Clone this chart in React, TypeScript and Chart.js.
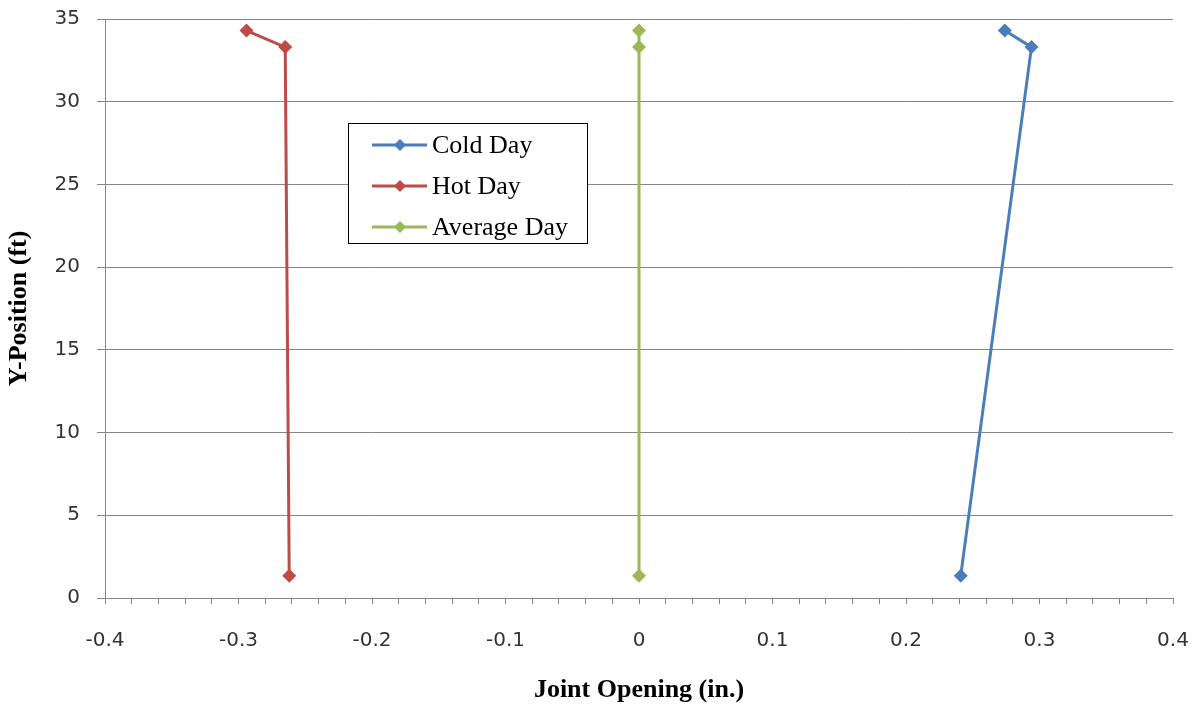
import React, { useEffect, useRef } from "react";
import { Chart, registerables } from "chart.js";

Chart.register(...registerables);

const seriesNames = ["Cold Day", "Hot Day", "Average Day"];
const seriesColors = ["#4a7ebb", "#be4b48", "#98b954"];
const yPositions = [34.3, 33.3, 1.35];
const coldX = [0.274, 0.294, 0.241];
const hotX = [-0.294, -0.265, -0.262];
const avgX = [0.0, 0.0, 0.0];
const xTitle = "Joint Opening (in.)";
const yTitle = "Y-Position (ft)";

const GRID = "#868686";
const TICK_FONT = "'DejaVu Sans', sans-serif";
const SERIF = "'Liberation Serif', 'Times New Roman', serif";

const zeroPad = (s: any) => {
  s.paddingTop = 0;
  s.paddingBottom = 0;
  s.paddingLeft = 0;
  s.paddingRight = 0;
};

const legendPlugin = {
  id: "boxLegend",
  afterDatasetsDraw(chart: any) {
    const ctx = chart.ctx;
    const bx = 348, by = 123, bw = 239, bh = 120;
    ctx.save();
    ctx.fillStyle = "#ffffff";
    ctx.fillRect(bx, by, bw, bh);
    ctx.strokeStyle = "#000000";
    ctx.lineWidth = 1;
    ctx.strokeRect(bx + 0.5, by + 0.5, bw, bh);
    chart.data.datasets.forEach((ds: any, i: number) => {
      const cy = by + 22 + i * 41;
      ctx.strokeStyle = ds.borderColor;
      ctx.lineWidth = 3;
      ctx.beginPath();
      ctx.moveTo(372, cy);
      ctx.lineTo(427, cy);
      ctx.stroke();
      ctx.fillStyle = ds.backgroundColor;
      ctx.beginPath();
      const r = 6;
      ctx.moveTo(400, cy - r);
      ctx.lineTo(400 + r, cy);
      ctx.lineTo(400, cy + r);
      ctx.lineTo(400 - r, cy);
      ctx.closePath();
      ctx.fill();
      ctx.fillStyle = "#000000";
      ctx.font = `26px ${SERIF}`;
      ctx.textBaseline = "middle";
      ctx.textAlign = "left";
      ctx.fillText(ds.label, 432, cy + 1);
    });
    ctx.restore();
  },
};

export default function App() {
  const ref = useRef<HTMLCanvasElement>(null);
  useEffect(() => {
    if (!ref.current) return;
    const xs = [coldX, hotX, avgX];
    const chart = new Chart(ref.current, {
      type: "scatter",
      data: {
        datasets: seriesNames.map((name, i) => ({
          label: name,
          data: xs[i].map((x, j) => ({ x, y: yPositions[j] })),
          showLine: true,
          borderColor: seriesColors[i],
          backgroundColor: seriesColors[i],
          borderWidth: 3,
          pointStyle: "rectRot",
          pointRadius: 7,
          pointHoverRadius: 7,
          pointBorderWidth: 0,
        })),
      },
      options: {
        animation: false,
        responsive: false,
        devicePixelRatio: 1,
        layout: { padding: { left: 0, right: 31, top: 19, bottom: 0 } },
        plugins: { legend: { display: false }, tooltip: { enabled: false } },
        scales: {
          x: {
            type: "linear",
            min: -0.4,
            max: 0.4,
            afterFit: (s: any) => {
              s.height = 112;
              zeroPad(s);
            },
            ticks: {
              stepSize: 0.02,
              autoSkip: false,
              maxRotation: 0,
              minRotation: 0,
              padding: 25,
              color: "#333333",
              font: { family: TICK_FONT, size: 20 },
              callback: (v: any) => {
                const n = Number(v);
                if (Math.abs(n * 10 - Math.round(n * 10)) > 1e-6) return "";
                const r = Math.round(n * 10) / 10;
                return r === 0 ? "0" : r.toFixed(1);
              },
            },
            grid: {
              drawOnChartArea: false,
              drawTicks: true,
              tickLength: 6,
              color: GRID,
            },
            border: { display: true, color: GRID },
            title: {
              display: true,
              text: xTitle,
              color: "#000000",
              font: { family: SERIF, size: 26, weight: "bold" },
              padding: { top: 0, bottom: 4 },
            },
          },
          y: {
            type: "linear",
            min: 0,
            max: 35,
            afterFit: (s: any) => {
              s.width = 105;
              zeroPad(s);
            },
            ticks: {
              stepSize: 5,
              padding: 17,
              color: "#333333",
              font: { family: TICK_FONT, size: 20 },
            },
            grid: {
              color: GRID,
              drawTicks: true,
              tickLength: 8,
            },
            border: { display: true, color: GRID },
            title: {
              display: true,
              text: yTitle,
              color: "#000000",
              font: { family: SERIF, size: 26, weight: "bold" },
              padding: { top: 4, bottom: 0 },
            },
          },
        },
      },
      plugins: [legendPlugin],
    } as any);
    return () => chart.destroy();
  }, []);
  return (
    <div style={{ position: "absolute", left: 0, top: 0, width: 1204, height: 710, background: "#fff" }}>
      <canvas ref={ref} width={1204} height={710} style={{ display: "block" }} />
    </div>
  );
}
